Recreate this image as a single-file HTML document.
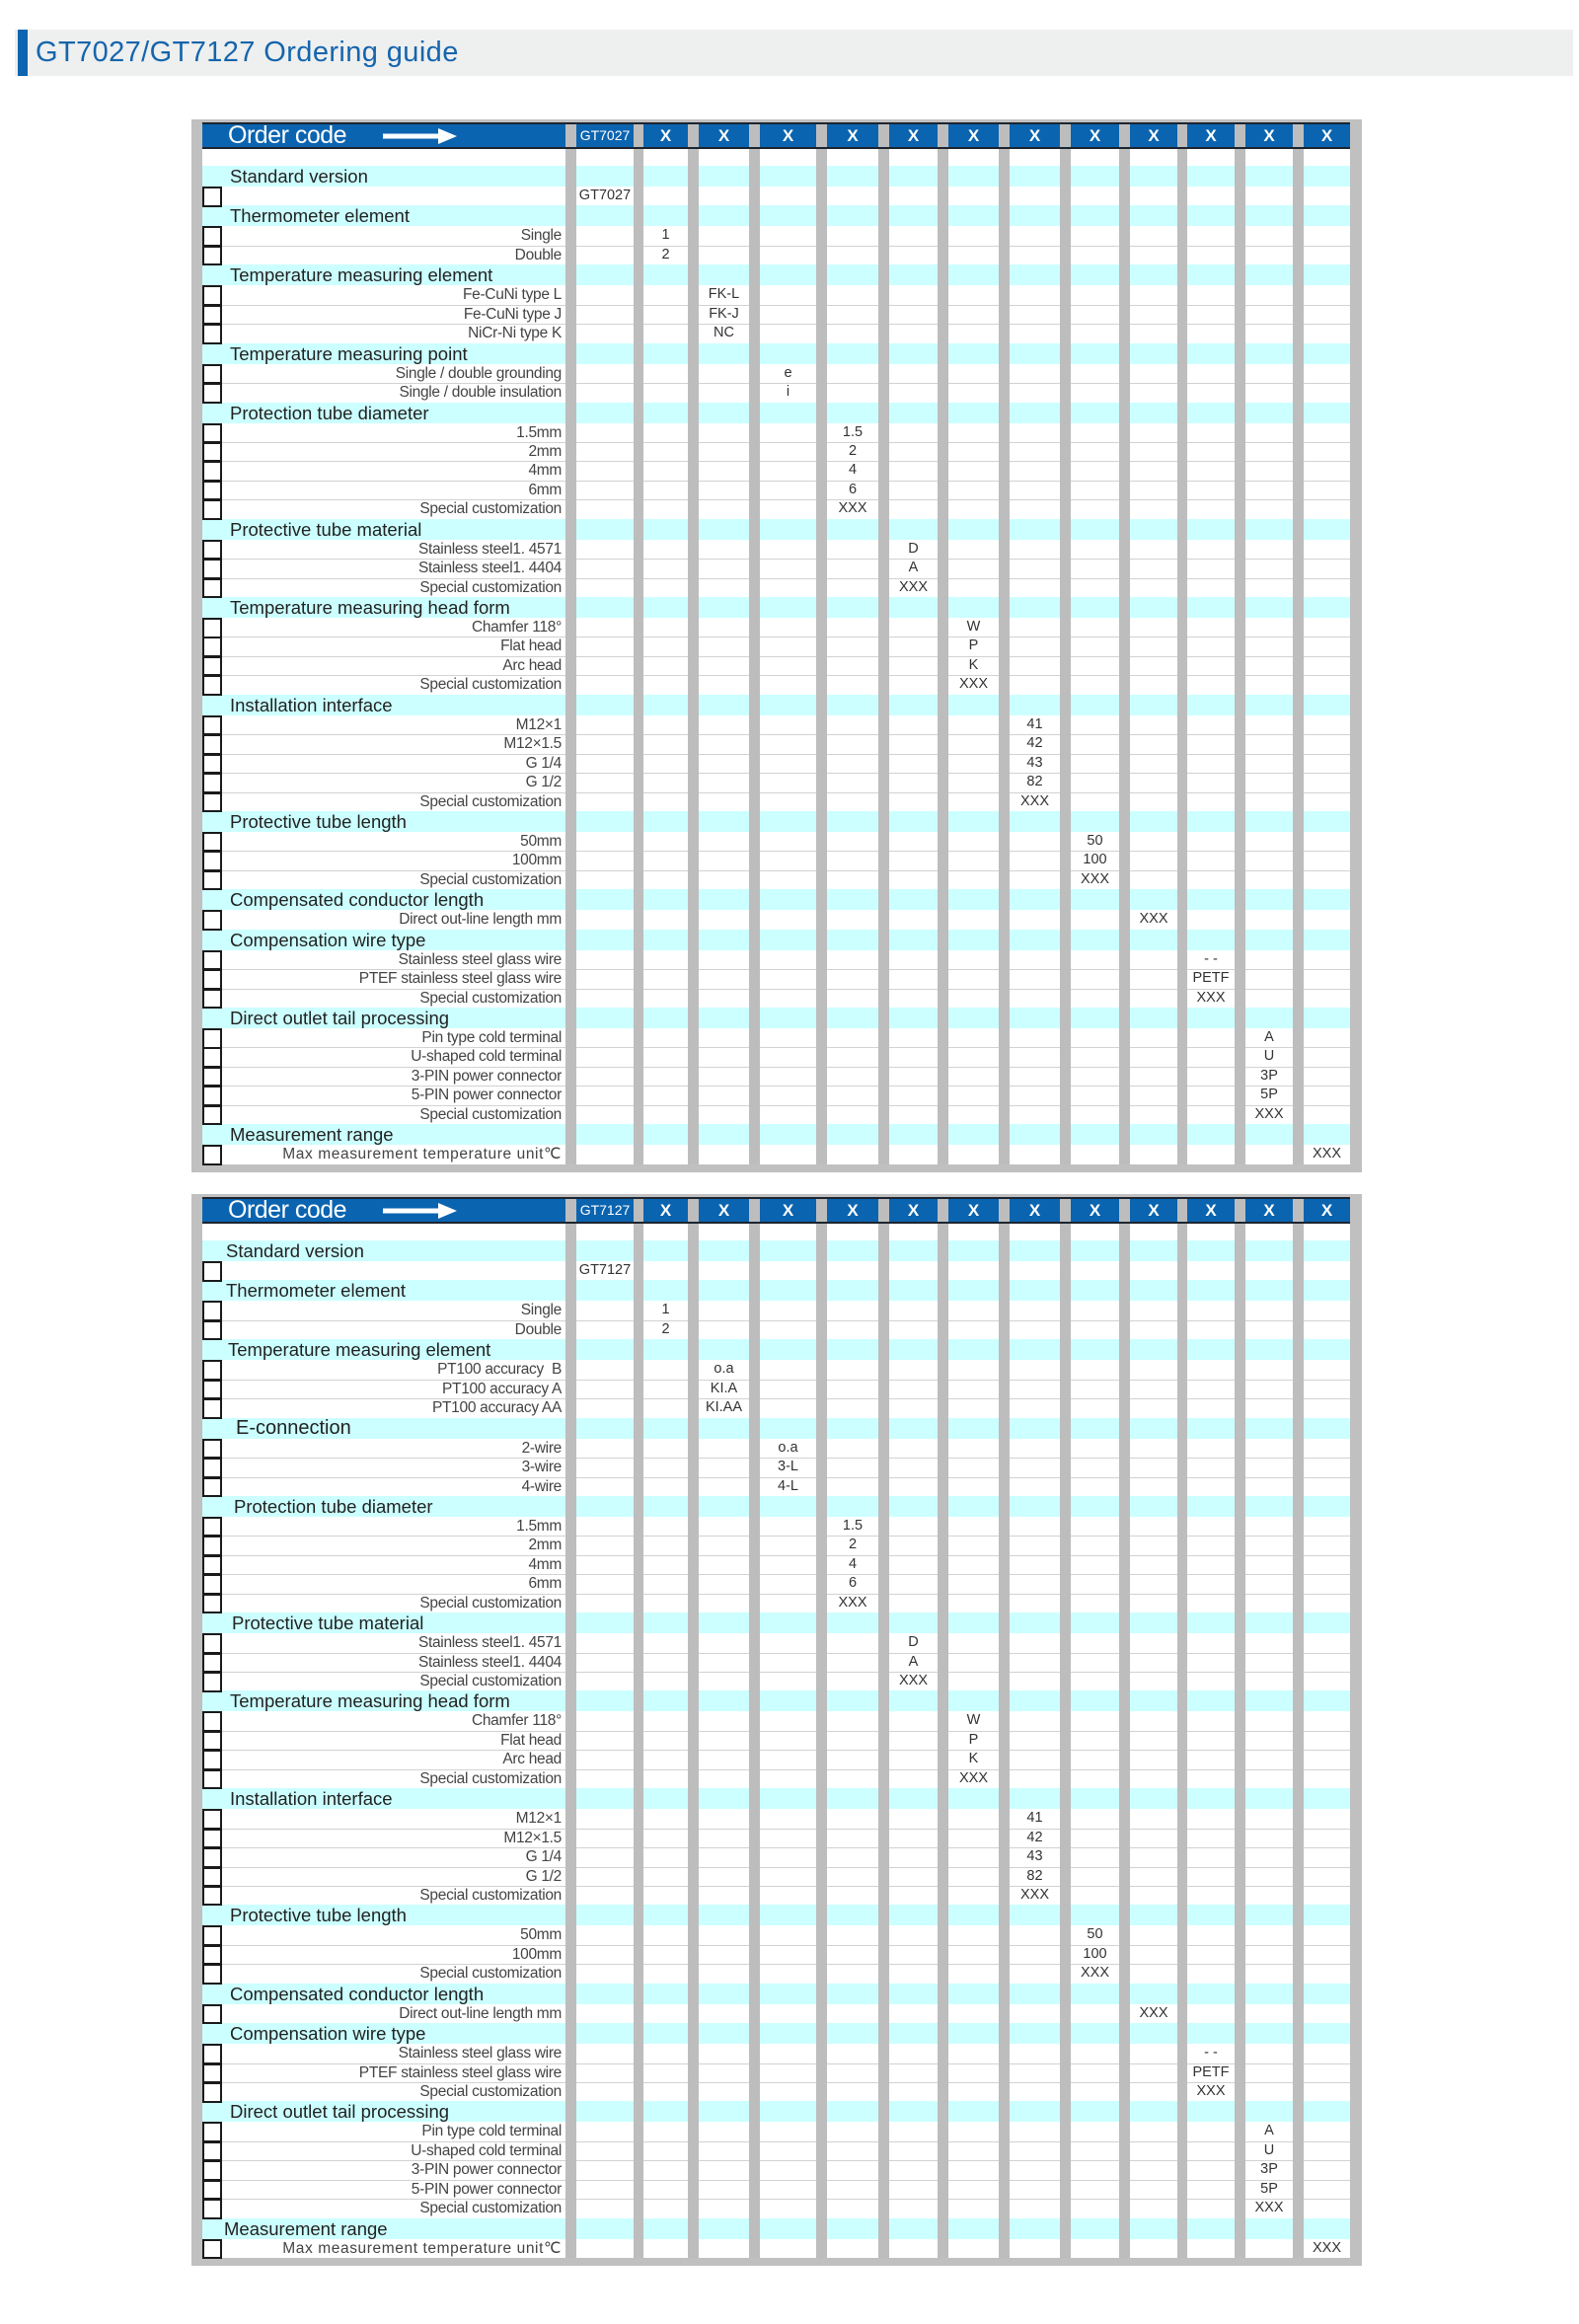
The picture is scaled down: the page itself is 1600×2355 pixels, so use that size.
<!DOCTYPE html>
<html><head><meta charset="utf-8">
<style>
*{margin:0;padding:0;box-sizing:border-box}
body{width:1600px;height:2355px;background:#fff;position:relative;font-family:"Liberation Sans",sans-serif;overflow:hidden}
.title{position:absolute;left:15px;top:30px;width:1579px;height:47px;background:#eeefef}
.title b{position:absolute;left:3px;top:0;width:10px;height:47px;background:#0d64b0}
.title span{position:absolute;left:21px;top:0;line-height:47px;font-size:29px;color:#1565ad;letter-spacing:0.4px}
.frame{position:absolute;left:194px;width:1186px;background:#c0c0c0;padding:3px 12px 8px 11px}
.in{position:relative;width:1163px}
.hd{height:27px;background:#0b64b0;position:relative;color:#fff}
.hd .oc{position:absolute;left:26px;top:0;line-height:27px;font-size:25px;letter-spacing:-0.5px}
.hd svg{position:absolute;left:183px;top:6px}
.hd .v{font-weight:bold;font-size:17px;line-height:27px;color:#fff}
.hd .v.v0{font-weight:normal;font-size:14px}
.dl{position:absolute;left:0;width:1163px;height:2px;background:#1c2530;z-index:5}
.sp{height:17px;background:#fff}
.c{height:21px;background:#ccffff;position:relative}
.c .l{position:absolute;left:28px;top:0;line-height:21px;font-size:18.5px;color:#222;white-space:nowrap}
.i{height:19.45px;background:#fff;position:relative}
.i.t{box-shadow:inset 0 1px 0 #d2d2d2}
.i .l{position:absolute;right:799px;top:0;line-height:19.45px;font-size:15.5px;color:#444;white-space:nowrap;letter-spacing:-0.3px}
.i i{position:absolute;left:0;top:0;width:20px;height:20.5px;border:2.5px solid #1a1a1a;z-index:6;background:#fff}
.v{position:absolute;top:0;width:60px;text-align:center;line-height:19.45px;font-size:14.5px;color:#333;white-space:nowrap}
.v0{left:378px}.v1{left:439.5px}.v2{left:498.5px}.v3{left:563.5px}.v4{left:629px}.v5{left:690.5px}.v6{left:751.5px}.v7{left:813.5px}.v8{left:874.5px}.v9{left:934px}.v10{left:992px}.v11{left:1051px}.v12{left:1109.5px}
.bar{position:absolute;top:0;bottom:0;background:#bdbdbd;z-index:4}
</style></head><body>
<div class="title"><b></b><span>GT7027/GT7127 Ordering guide</span></div>

<!-- TABLE 1 -->
<div class="frame" style="top:121px"><div class="in">
<div class="bar" style="left:368px;width:11px"></div>
<div class="bar" style="left:437px;width:10px"></div>
<div class="bar" style="left:492px;width:11px"></div>
<div class="bar" style="left:554px;width:11px"></div>
<div class="bar" style="left:622px;width:11px"></div>
<div class="bar" style="left:685px;width:11px"></div>
<div class="bar" style="left:745px;width:11px"></div>
<div class="bar" style="left:807px;width:11px"></div>
<div class="bar" style="left:869px;width:11px"></div>
<div class="bar" style="left:929px;width:11px"></div>
<div class="bar" style="left:988px;width:10px"></div>
<div class="bar" style="left:1046px;width:11px"></div>
<div class="bar" style="left:1105px;width:11px"></div>
<div class="dl" style="top:0"></div><div class="dl" style="top:25px"></div>
<div class="hd"><span class="oc">Order code</span><svg width="76" height="16"><rect x="0" y="5.5" width="58" height="5" fill="#fff"/><polygon points="56,0 75,8 56,16" fill="#fff"/></svg>
<span class="v v0">GT7027</span><span class="v v1">X</span><span class="v v2">X</span><span class="v v3">X</span><span class="v v4">X</span><span class="v v5">X</span><span class="v v6">X</span><span class="v v7">X</span><span class="v v8">X</span><span class="v v9">X</span><span class="v v10">X</span><span class="v v11">X</span><span class="v v12">X</span></div>
<div class="sp"></div>
<div class="c"><span class="l">Standard version</span></div>
<div class="i"><i></i><span class="v v0">GT7027</span></div>
<div class="c"><span class="l">Thermometer element</span></div>
<div class="i"><i></i><span class="l">Single</span><span class="v v1">1</span></div>
<div class="i t"><i></i><span class="l">Double</span><span class="v v1">2</span></div>
<div class="c"><span class="l">Temperature measuring element</span></div>
<div class="i"><i></i><span class="l">Fe-CuNi type L</span><span class="v v2">FK-L</span></div>
<div class="i t"><i></i><span class="l">Fe-CuNi type J</span><span class="v v2">FK-J</span></div>
<div class="i t"><i></i><span class="l">NiCr-Ni type K</span><span class="v v2">NC</span></div>
<div class="c"><span class="l">Temperature measuring point</span></div>
<div class="i"><i></i><span class="l">Single / double grounding</span><span class="v v3">e</span></div>
<div class="i t"><i></i><span class="l">Single / double insulation</span><span class="v v3">i</span></div>
<div class="c"><span class="l">Protection tube diameter</span></div>
<div class="i"><i></i><span class="l">1.5mm</span><span class="v v4">1.5</span></div>
<div class="i t"><i></i><span class="l">2mm</span><span class="v v4">2</span></div>
<div class="i t"><i></i><span class="l">4mm</span><span class="v v4">4</span></div>
<div class="i t"><i></i><span class="l">6mm</span><span class="v v4">6</span></div>
<div class="i t"><i></i><span class="l">Special customization</span><span class="v v4">XXX</span></div>
<div class="c"><span class="l">Protective tube material</span></div>
<div class="i"><i></i><span class="l">Stainless steel1. 4571</span><span class="v v5">D</span></div>
<div class="i t"><i></i><span class="l">Stainless steel1. 4404</span><span class="v v5">A</span></div>
<div class="i t"><i></i><span class="l">Special customization</span><span class="v v5">XXX</span></div>
<div class="c"><span class="l">Temperature measuring head form</span></div>
<div class="i"><i></i><span class="l">Chamfer 118°</span><span class="v v6">W</span></div>
<div class="i t"><i></i><span class="l">Flat head</span><span class="v v6">P</span></div>
<div class="i t"><i></i><span class="l">Arc head</span><span class="v v6">K</span></div>
<div class="i t"><i></i><span class="l">Special customization</span><span class="v v6">XXX</span></div>
<div class="c"><span class="l">Installation interface</span></div>
<div class="i"><i></i><span class="l">M12×1</span><span class="v v7">41</span></div>
<div class="i t"><i></i><span class="l">M12×1.5</span><span class="v v7">42</span></div>
<div class="i t"><i></i><span class="l">G 1/4</span><span class="v v7">43</span></div>
<div class="i t"><i></i><span class="l">G 1/2</span><span class="v v7">82</span></div>
<div class="i t"><i></i><span class="l">Special customization</span><span class="v v7">XXX</span></div>
<div class="c"><span class="l">Protective tube length</span></div>
<div class="i"><i></i><span class="l">50mm</span><span class="v v8">50</span></div>
<div class="i t"><i></i><span class="l">100mm</span><span class="v v8">100</span></div>
<div class="i t"><i></i><span class="l">Special customization</span><span class="v v8">XXX</span></div>
<div class="c"><span class="l">Compensated conductor length</span></div>
<div class="i"><i></i><span class="l">Direct out-line length mm</span><span class="v v9">XXX</span></div>
<div class="c"><span class="l">Compensation wire type</span></div>
<div class="i"><i></i><span class="l">Stainless steel glass wire</span><span class="v v10">- -</span></div>
<div class="i t"><i></i><span class="l">PTEF stainless steel glass wire</span><span class="v v10">PETF</span></div>
<div class="i t"><i></i><span class="l">Special customization</span><span class="v v10">XXX</span></div>
<div class="c"><span class="l">Direct outlet tail processing</span></div>
<div class="i"><i></i><span class="l">Pin type cold terminal</span><span class="v v11">A</span></div>
<div class="i t"><i></i><span class="l">U-shaped cold terminal</span><span class="v v11">U</span></div>
<div class="i t"><i></i><span class="l">3-PIN power connector</span><span class="v v11">3P</span></div>
<div class="i t"><i></i><span class="l">5-PIN power connector</span><span class="v v11">5P</span></div>
<div class="i t"><i></i><span class="l">Special customization</span><span class="v v11">XXX</span></div>
<div class="c"><span class="l">Measurement range</span></div>
<div class="i"><i></i><span class="l" style="letter-spacing:0.6px">Max measurement temperature unit℃</span><span class="v v12">XXX</span></div>
</div></div>

<!-- TABLE 2 -->
<div class="frame" style="top:1210px"><div class="in">
<div class="bar" style="left:368px;width:11px"></div>
<div class="bar" style="left:437px;width:10px"></div>
<div class="bar" style="left:492px;width:11px"></div>
<div class="bar" style="left:554px;width:11px"></div>
<div class="bar" style="left:622px;width:11px"></div>
<div class="bar" style="left:685px;width:11px"></div>
<div class="bar" style="left:745px;width:11px"></div>
<div class="bar" style="left:807px;width:11px"></div>
<div class="bar" style="left:869px;width:11px"></div>
<div class="bar" style="left:929px;width:11px"></div>
<div class="bar" style="left:988px;width:10px"></div>
<div class="bar" style="left:1046px;width:11px"></div>
<div class="bar" style="left:1105px;width:11px"></div>
<div class="dl" style="top:0"></div><div class="dl" style="top:25px"></div>
<div class="hd"><span class="oc">Order code</span><svg width="76" height="16"><rect x="0" y="5.5" width="58" height="5" fill="#fff"/><polygon points="56,0 75,8 56,16" fill="#fff"/></svg>
<span class="v v0">GT7127</span><span class="v v1">X</span><span class="v v2">X</span><span class="v v3">X</span><span class="v v4">X</span><span class="v v5">X</span><span class="v v6">X</span><span class="v v7">X</span><span class="v v8">X</span><span class="v v9">X</span><span class="v v10">X</span><span class="v v11">X</span><span class="v v12">X</span></div>
<div class="sp"></div>
<div class="c"><span class="l" style="left:24px">Standard version</span></div>
<div class="i"><i></i><span class="v v0">GT7127</span></div>
<div class="c"><span class="l" style="left:24px">Thermometer element</span></div>
<div class="i"><i></i><span class="l">Single</span><span class="v v1">1</span></div>
<div class="i t"><i></i><span class="l">Double</span><span class="v v1">2</span></div>
<div class="c"><span class="l" style="left:26px">Temperature measuring element</span></div>
<div class="i"><i></i><span class="l">PT100 accuracy&nbsp; B</span><span class="v v2">o.a</span></div>
<div class="i t"><i></i><span class="l">PT100 accuracy A</span><span class="v v2">KI.A</span></div>
<div class="i t"><i></i><span class="l">PT100 accuracy AA</span><span class="v v2">KI.AA</span></div>
<div class="c"><span class="l" style="left:34px;font-size:20px">E-connection</span></div>
<div class="i"><i></i><span class="l">2-wire</span><span class="v v3">o.a</span></div>
<div class="i t"><i></i><span class="l">3-wire</span><span class="v v3">3-L</span></div>
<div class="i t"><i></i><span class="l">4-wire</span><span class="v v3">4-L</span></div>
<div class="c"><span class="l" style="left:32px">Protection tube diameter</span></div>
<div class="i"><i></i><span class="l">1.5mm</span><span class="v v4">1.5</span></div>
<div class="i t"><i></i><span class="l">2mm</span><span class="v v4">2</span></div>
<div class="i t"><i></i><span class="l">4mm</span><span class="v v4">4</span></div>
<div class="i t"><i></i><span class="l">6mm</span><span class="v v4">6</span></div>
<div class="i t"><i></i><span class="l">Special customization</span><span class="v v4">XXX</span></div>
<div class="c"><span class="l" style="left:30px">Protective tube material</span></div>
<div class="i"><i></i><span class="l">Stainless steel1. 4571</span><span class="v v5">D</span></div>
<div class="i t"><i></i><span class="l">Stainless steel1. 4404</span><span class="v v5">A</span></div>
<div class="i t"><i></i><span class="l">Special customization</span><span class="v v5">XXX</span></div>
<div class="c"><span class="l">Temperature measuring head form</span></div>
<div class="i"><i></i><span class="l">Chamfer 118°</span><span class="v v6">W</span></div>
<div class="i t"><i></i><span class="l">Flat head</span><span class="v v6">P</span></div>
<div class="i t"><i></i><span class="l">Arc head</span><span class="v v6">K</span></div>
<div class="i t"><i></i><span class="l">Special customization</span><span class="v v6">XXX</span></div>
<div class="c"><span class="l">Installation interface</span></div>
<div class="i"><i></i><span class="l">M12×1</span><span class="v v7">41</span></div>
<div class="i t"><i></i><span class="l">M12×1.5</span><span class="v v7">42</span></div>
<div class="i t"><i></i><span class="l">G 1/4</span><span class="v v7">43</span></div>
<div class="i t"><i></i><span class="l">G 1/2</span><span class="v v7">82</span></div>
<div class="i t"><i></i><span class="l">Special customization</span><span class="v v7">XXX</span></div>
<div class="c"><span class="l">Protective tube length</span></div>
<div class="i"><i></i><span class="l">50mm</span><span class="v v8">50</span></div>
<div class="i t"><i></i><span class="l">100mm</span><span class="v v8">100</span></div>
<div class="i t"><i></i><span class="l">Special customization</span><span class="v v8">XXX</span></div>
<div class="c"><span class="l">Compensated conductor length</span></div>
<div class="i"><i></i><span class="l">Direct out-line length mm</span><span class="v v9">XXX</span></div>
<div class="c"><span class="l">Compensation wire type</span></div>
<div class="i"><i></i><span class="l">Stainless steel glass wire</span><span class="v v10">- -</span></div>
<div class="i t"><i></i><span class="l">PTEF stainless steel glass wire</span><span class="v v10">PETF</span></div>
<div class="i t"><i></i><span class="l">Special customization</span><span class="v v10">XXX</span></div>
<div class="c"><span class="l">Direct outlet tail processing</span></div>
<div class="i"><i></i><span class="l">Pin type cold terminal</span><span class="v v11">A</span></div>
<div class="i t"><i></i><span class="l">U-shaped cold terminal</span><span class="v v11">U</span></div>
<div class="i t"><i></i><span class="l">3-PIN power connector</span><span class="v v11">3P</span></div>
<div class="i t"><i></i><span class="l">5-PIN power connector</span><span class="v v11">5P</span></div>
<div class="i t"><i></i><span class="l">Special customization</span><span class="v v11">XXX</span></div>
<div class="c"><span class="l" style="left:22px">Measurement range</span></div>
<div class="i"><i></i><span class="l" style="letter-spacing:0.6px">Max measurement temperature unit℃</span><span class="v v12">XXX</span></div>
</div></div>
</body></html>
